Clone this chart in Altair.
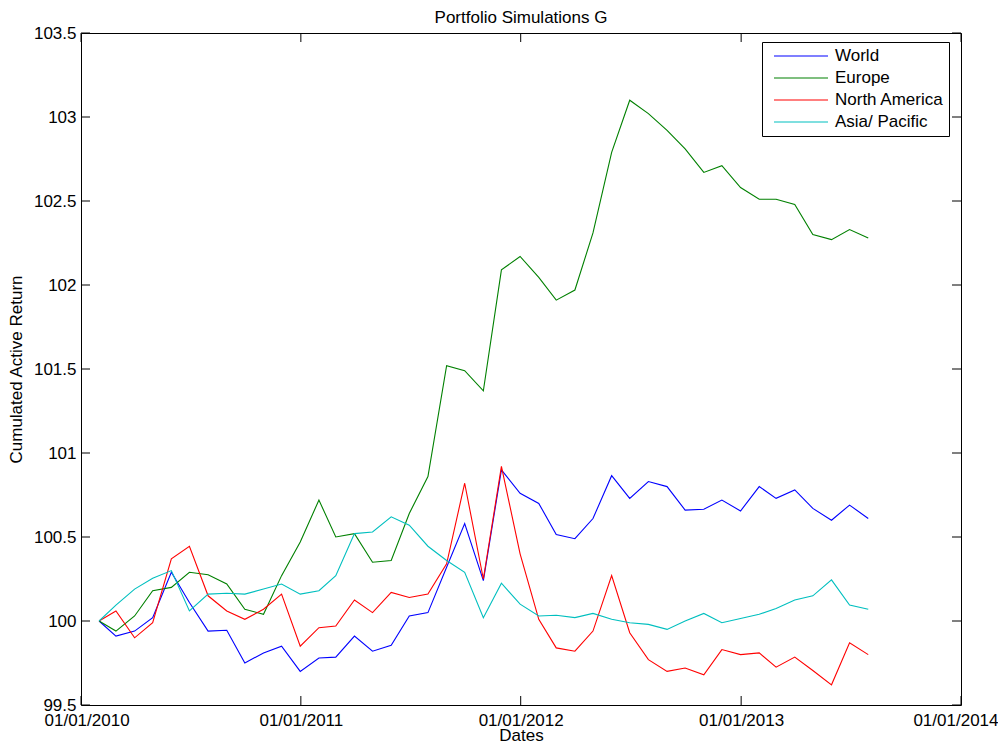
import calendar
import altair as alt
import pandas as pd

# ---------------- data ----------------
series_names = ["World", "Europe", "North America", "Asia/ Pacific"]
series_colors = ["#0000ff", "#008000", "#ff0000", "#00bfbf"]

# month-end dates Jan 2010 .. Jul 2013
dates = [f"{y}-{m:02d}-{calendar.monthrange(y, m)[1]:02d}"
         for y in range(2010, 2014) for m in range(1, 13) if (y, m) <= (2013, 7)]

world = [100.00, 99.91, 99.94, 100.02, 100.29, 100.11, 99.94, 99.945, 99.75, 99.81,
         99.85, 99.70, 99.78, 99.785, 99.91, 99.82, 99.855, 100.03, 100.05, 100.32,
         100.58, 100.24, 100.90, 100.76, 100.70, 100.515, 100.49, 100.61, 100.865, 100.73,
         100.83, 100.80, 100.66, 100.665, 100.72, 100.655, 100.80, 100.73, 100.78, 100.67,
         100.60, 100.69, 100.61]
europe = [100.00, 99.94, 100.03, 100.18, 100.20, 100.29, 100.275, 100.22, 100.07, 100.04,
          100.27, 100.47, 100.72, 100.50, 100.52, 100.35, 100.36, 100.64, 100.86, 101.52,
          101.49, 101.37, 102.09, 102.17, 102.045, 101.91, 101.97, 102.31, 102.79, 103.10,
          103.02, 102.92, 102.81, 102.67, 102.71, 102.58, 102.51, 102.51, 102.48, 102.30,
          102.27, 102.33, 102.28]
north_america = [100.00, 100.06, 99.90, 99.99, 100.37, 100.445, 100.15, 100.06, 100.01, 100.07,
                 100.16, 99.85, 99.96, 99.97, 100.125, 100.05, 100.17, 100.14, 100.16, 100.34,
                 100.82, 100.25, 100.92, 100.40, 100.01, 99.84, 99.82, 99.94, 100.27, 99.93,
                 99.77, 99.70, 99.72, 99.68, 99.83, 99.80, 99.81, 99.725, 99.785, 99.705,
                 99.62, 99.87, 99.80]
asia_pacific = [100.00, 100.095, 100.19, 100.255, 100.30, 100.06, 100.16, 100.165, 100.16, 100.19,
                100.22, 100.16, 100.18, 100.27, 100.52, 100.53, 100.62, 100.57, 100.445, 100.36,
                100.29, 100.02, 100.225, 100.10, 100.03, 100.034, 100.02, 100.045, 100.01, 99.99,
                99.98, 99.95, 100.00, 100.045, 99.99, 100.015, 100.04, 100.075, 100.125, 100.15,
                100.245, 100.095, 100.07]

y_ticks = [99.5, 100.0, 100.5, 101.0, 101.5, 102.0, 102.5, 103.0, 103.5]
x_ticks = ["2010-01-01", "2011-01-01", "2012-01-01", "2013-01-01", "2014-01-01"]

title_text = "Portfolio Simulations G"
x_title = "Dates"
y_title = "Cumulated Active Return"

# ---------------- tables ----------------
rows = []
for name, vals in zip(series_names, [world, europe, north_america, asia_pacific]):
    for d, v in zip(dates, vals):
        rows.append({"date": d, "value": v, "series": name})
df = pd.DataFrame(rows)
df_yt = pd.DataFrame({"value": y_ticks})
df_xt = pd.DataFrame({"date": x_ticks})

# ---------------- layout ----------------
W, H = 880, 672
TICK = 9
FONT = "Liberation Sans"
FS = 17

def dt(s):
    y, m, d = (int(p) for p in s.split("-"))
    return alt.DateTime(year=y, month=m, date=d, utc=True)

xscale = alt.Scale(type="utc", domain=[dt(x_ticks[0]), dt(x_ticks[-1])], nice=False)
yscale = alt.Scale(domain=[y_ticks[0], y_ticks[-1]], nice=False, zero=False)

x_axis = alt.Axis(values=[dt(s) for s in x_ticks],
                  labelExpr="utcFormat(datum.value, '%d/%m/%Y')",
                  title=x_title, labelPadding=7, titlePadding=-1, ticks=False, tickSize=0,
                  domain=False, grid=False, labelFlush=True, labelFlushOffset=37,
                  labelOverlap=False)
y_axis = alt.Axis(values=y_ticks, format="~g", title=y_title, labelPadding=5, titlePadding=8,
                  ticks=False, tickSize=0, domain=False, grid=False, labelFlush=False,
                  labelOverlap=False)

X = alt.X("date:T", scale=xscale, axis=x_axis)
Y = alt.Y("value:Q", scale=yscale, axis=y_axis)

lines = alt.Chart(df).mark_line(strokeWidth=1.1).encode(
    x=X,
    y=Y,
    color=alt.Color("series:N", sort=series_names,
                    scale=alt.Scale(domain=series_names, range=series_colors),
                    legend=alt.Legend(orient="none", legendX=681, legendY=9, title=None,
                                      strokeColor="black", fillColor="white", padding=5,
                                      symbolType="stroke", symbolSize=2916, symbolStrokeWidth=1.2,
                                      symbolOffset=6, labelOffset=6, clipHeight=18, rowPadding=4,
                                      labelFontSize=FS, labelFont=FONT, labelColor="black")),
)

tick_style = dict(color="black", strokeWidth=1)
left_ticks = alt.Chart(df_yt).mark_rule(**tick_style).encode(
    y=Y, x=alt.value(0), x2=alt.value(TICK))
right_ticks = alt.Chart(df_yt).mark_rule(**tick_style).encode(
    y=Y, x=alt.value(W), x2=alt.value(W - TICK))
bottom_ticks = alt.Chart(df_xt).mark_rule(**tick_style).encode(
    x=X, y=alt.value(H), y2=alt.value(H - TICK))
top_ticks = alt.Chart(df_xt).mark_rule(**tick_style).encode(
    x=X, y=alt.value(0), y2=alt.value(TICK))

chart = alt.layer(lines, left_ticks, right_ticks, bottom_ticks, top_ticks).properties(
    width=W, height=H,
    title=alt.TitleParams(title_text, fontSize=FS, font=FONT, fontWeight="normal",
                          color="black", baseline="alphabetic", offset=-16, anchor="middle",
                          frame="group"),
    autosize=alt.AutoSizeParams(type="none"),
    padding={"left": 73, "top": 25, "right": 37, "bottom": 38},
).configure(font=FONT, background="white").configure_view(
    stroke="black", strokeWidth=1
).configure_axis(
    labelFont=FONT, titleFont=FONT, labelFontSize=FS, titleFontSize=FS,
    titleFontWeight="normal", labelColor="black", titleColor="black"
)

chart.save("out.html", embed_options={"renderer": "svg", "actions": False})
